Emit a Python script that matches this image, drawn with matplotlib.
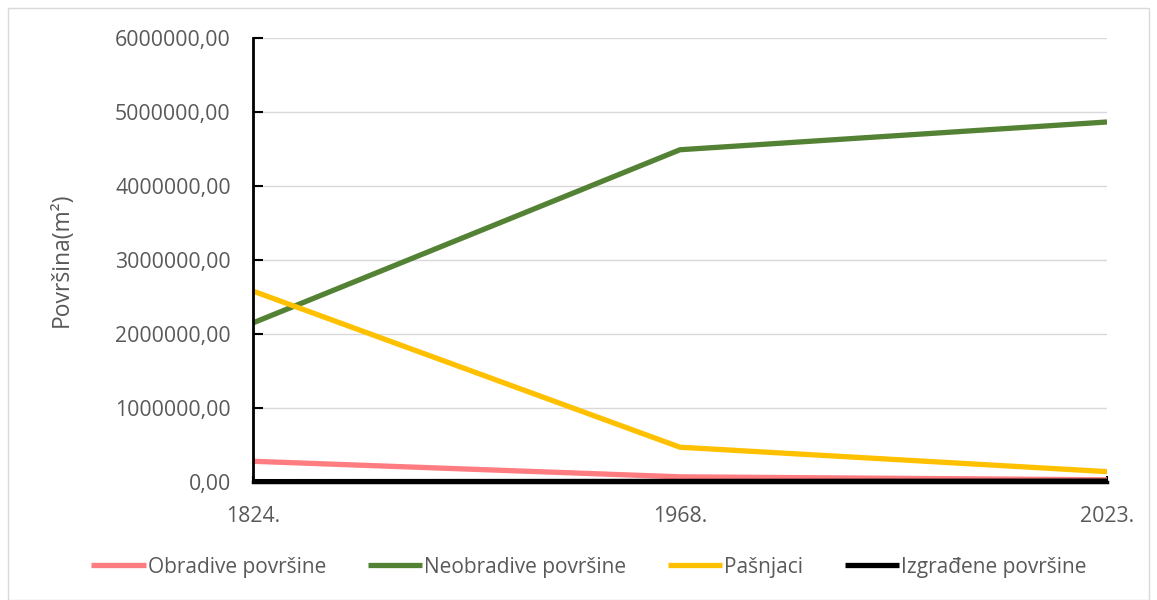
import matplotlib
matplotlib.use("Agg")
import matplotlib.pyplot as plt
from matplotlib.ticker import FuncFormatter

years = ["1824.", "1968.", "2023."]
obradive = [280000, 70000, 30000]
neobradive = [2150000, 4490000, 4865000]
pasnjaci = [2580000, 470000, 140000]
izgradjene = [5000, 8000, 12000]
series_names = ["Obradive površine", "Neobradive površine", "Pašnjaci", "Izgrađene površine"]
colors = ["#FF7C80", "#548235", "#FFC000", "#000000"]

plt.rcParams['font.family'] = ['Open Sans', 'DejaVu Sans']

fig = plt.figure(figsize=(11.57, 6.0), dpi=100)
ax = fig.add_axes([253/1157, 1-482/600, (1107-253)/1157, (482-38)/600])

x = list(range(len(years)))
for vals, name, c in zip([obradive, neobradive, pasnjaci, izgradjene], series_names, colors):
    ax.plot(x, vals, color=c, lw=3.8, label=name, solid_capstyle='butt', solid_joinstyle='round')

ax.set_xlim(0, 2)
ax.set_ylim(0, 6000000)
ax.set_yticks([i*1000000 for i in range(7)])
ax.yaxis.set_major_formatter(FuncFormatter(lambda v, p: f"{int(round(v))},00"))
ax.set_xticks(x)
ax.set_xticklabels(years)
ax.grid(axis='y', color='#D9D9D9', lw=1)
ax.set_axisbelow(True)
for s in ['top', 'right']:
    ax.spines[s].set_visible(False)
ax.spines['left'].set_color('black')
ax.spines['left'].set_linewidth(2)
ax.spines['bottom'].set_color('black')
ax.spines['bottom'].set_linewidth(2.5)
ax.tick_params(axis='y', direction='in', length=7, width=1.5, colors='black', labelcolor='#595959', labelsize=15.3, pad=16)
ax.tick_params(axis='x', direction='in', length=4, width=1.5, colors='black', labelcolor='#595959', labelsize=15.3, pad=17)
ax.set_ylabel("Površina(m²)", fontsize=16.5, color='#595959', labelpad=30)

leg = fig.legend(loc='center', bbox_to_anchor=(0.509, 1-567/600), ncol=4, frameon=False,
                 fontsize=15, handlelength=2.6, handletextpad=0.1, columnspacing=2.0,
                 labelcolor='#595959')

border = plt.Rectangle((8/1157, 0), 1-16/1157, 1-8/600, transform=fig.transFigure,
                       fill=False, edgecolor='#D9D9D9', lw=1)
fig.patches.append(border)

fig.savefig("out.png", dpi=100, facecolor='white')
